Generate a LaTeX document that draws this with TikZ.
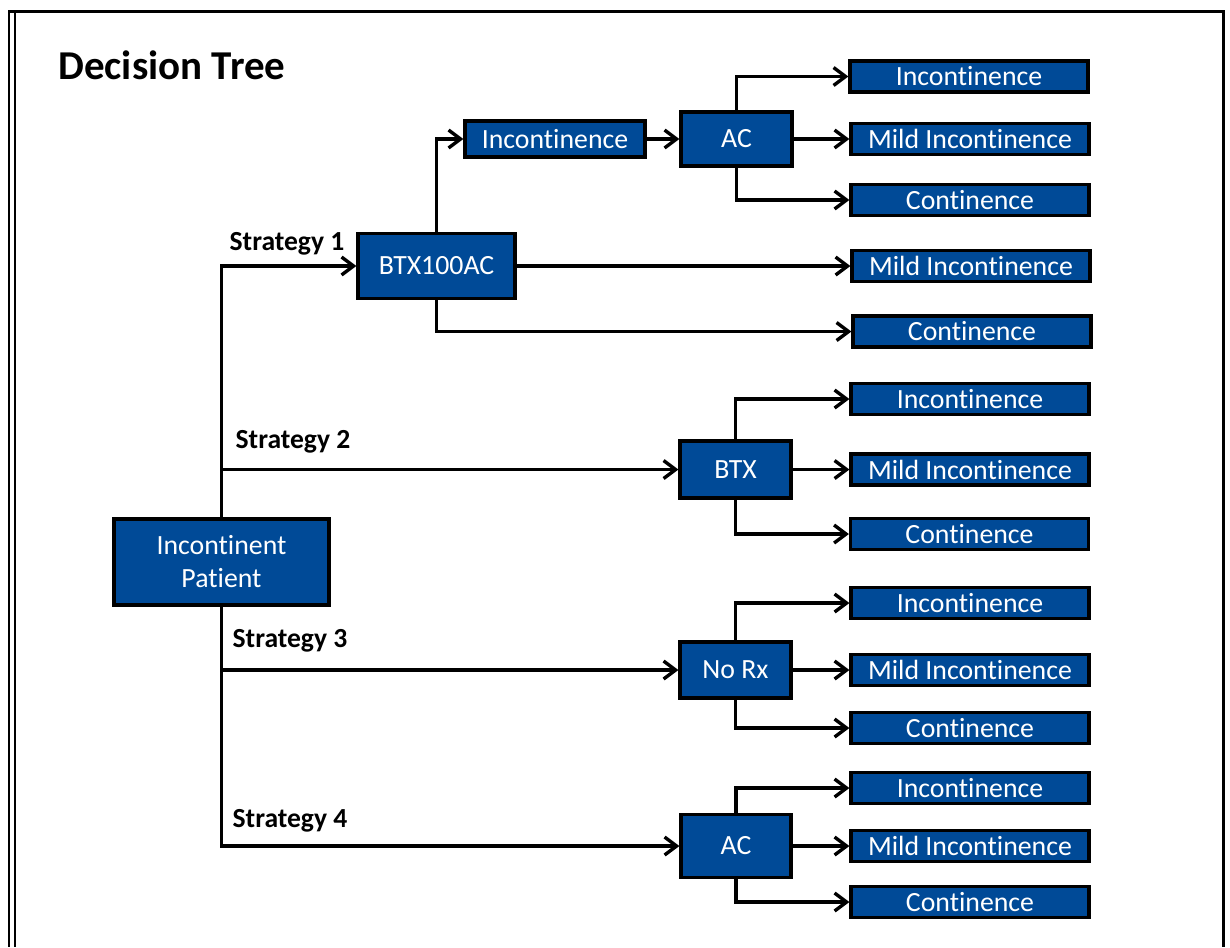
\documentclass[tikz,border=0pt]{standalone}
\usepackage{fontspec}
\setmainfont[Ligatures={NoCommon}]{Carlito}
\usetikzlibrary{arrows.meta}
\definecolor{boxblue}{RGB}{0,74,151}
\tikzset{
  box/.style={draw=black, fill=boxblue, line width=1.6pt, text=white, inner sep=1pt,
    font=\fontsize{13.9}{16.5}\selectfont, align=center},
  leaf/.style={box, minimum width=119pt, minimum height=15.5pt},
  strat/.style={font=\fontsize{13.8}{16.5}\selectfont\bfseries, inner sep=0pt},
  link/.style={line width=1.7pt, -{Straight Barb[length=6pt,width=9pt]}}
}
\begin{document}
\begin{tikzpicture}[x=0.5pt, y=-0.5pt]

  \useasboundingbox (0,0) rectangle (1230,947);

  % Frame
  \draw[line width=1.3pt] (9,12) -- (9,947);
  \draw[line width=1pt] (15,12) -- (15,947);
  \draw[line width=1.5pt] (8,12) -- (1223,12) -- (1223,947);

  % Title
  \node[anchor=west, inner sep=0pt, font=\fontsize{20.5}{24}\selectfont\bfseries] (title) at (58,65) {Decision Tree};

  % Root and strategies
  \node[box, minimum width=107.5pt, minimum height=43pt] (root) at (221.5,562) {Incontinent\\Patient};
  \node[box, minimum width=78.5pt, minimum height=32.5pt] (btxac) at (436.5,266) {BTX100AC};
  \node[box, minimum width=55.5pt, minimum height=28.5pt] (btx) at (735.5,469.5) {BTX};
  \node[box, minimum width=55.5pt, minimum height=28pt] (norx) at (735.5,670) {No Rx};
  \node[box, minimum width=55pt, minimum height=31.5pt] (acb) at (736,846) {AC};

  \node[strat] (lab1) at (287,244) {Strategy 1};
  \node[strat] (lab2) at (293,442) {Strategy 2};
  \node[strat] (lab3) at (290,641) {Strategy 3};
  \node[strat] (lab4) at (290,821) {Strategy 4};

  \draw[link] (root.north) |- (btxac.west);
  \draw[link] (root.north) |- (btx.west);
  \draw[link] (root.south) |- (norx.west);
  \draw[link] (root.south) |- (acb.west);

  % Strategy 1 branch
  \node[box, minimum width=90pt, minimum height=18pt] (inc) at (555,139) {Incontinence};
  \node[box, minimum width=55.5pt, minimum height=27pt] (aca) at (736.5,139) {AC};

  \node[leaf] (a1) at (969,76.5) {Incontinence};
  \node[leaf] (a2) at (970,139) {Mild Incontinence};
  \node[leaf] (a3) at (970,200) {Continence};
  \node[leaf] (b2) at (971,266) {Mild Incontinence};
  \node[leaf] (b3) at (972,331.5) {Continence};

  \draw[link] (btxac.north) |- (inc.west);
  \draw[link] (inc) -- (aca);
  \draw[link] (aca.north) |- (a1.west);
  \draw[link] (aca) -- (a2);
  \draw[link] (aca.south) |- (a3.west);
  \draw[link] (btxac) -- (b2);
  \draw[link] (btxac.south) |- (b3.west);

  % Strategy 2 branch
  \node[leaf] (c1) at (970,399) {Incontinence};
  \node[leaf] (c2) at (970,469.5) {Mild Incontinence};
  \node[leaf] (c3) at (969.5,534) {Continence};

  \draw[link] (btx.north) |- (c1.west);
  \draw[link] (btx) -- (c2);
  \draw[link] (btx.south) |- (c3.west);

  % Strategy 3 branch
  \node[leaf] (d1) at (970,603) {Incontinence};
  \node[leaf] (d2) at (970,670) {Mild Incontinence};
  \node[leaf] (d3) at (970,728) {Continence};

  \draw[link] (norx.north) |- (d1.west);
  \draw[link] (norx) -- (d2);
  \draw[link] (norx.south) |- (d3.west);

  % Strategy 4 branch
  \node[leaf] (e1) at (970,788) {Incontinence};
  \node[leaf] (e2) at (970,846) {Mild Incontinence};
  \node[leaf] (e3) at (970,902) {Continence};

  \draw[link] (acb.north) |- (e1.west);
  \draw[link] (acb) -- (e2);
  \draw[link] (acb.south) |- (e3.west);

\end{tikzpicture}
\end{document}
